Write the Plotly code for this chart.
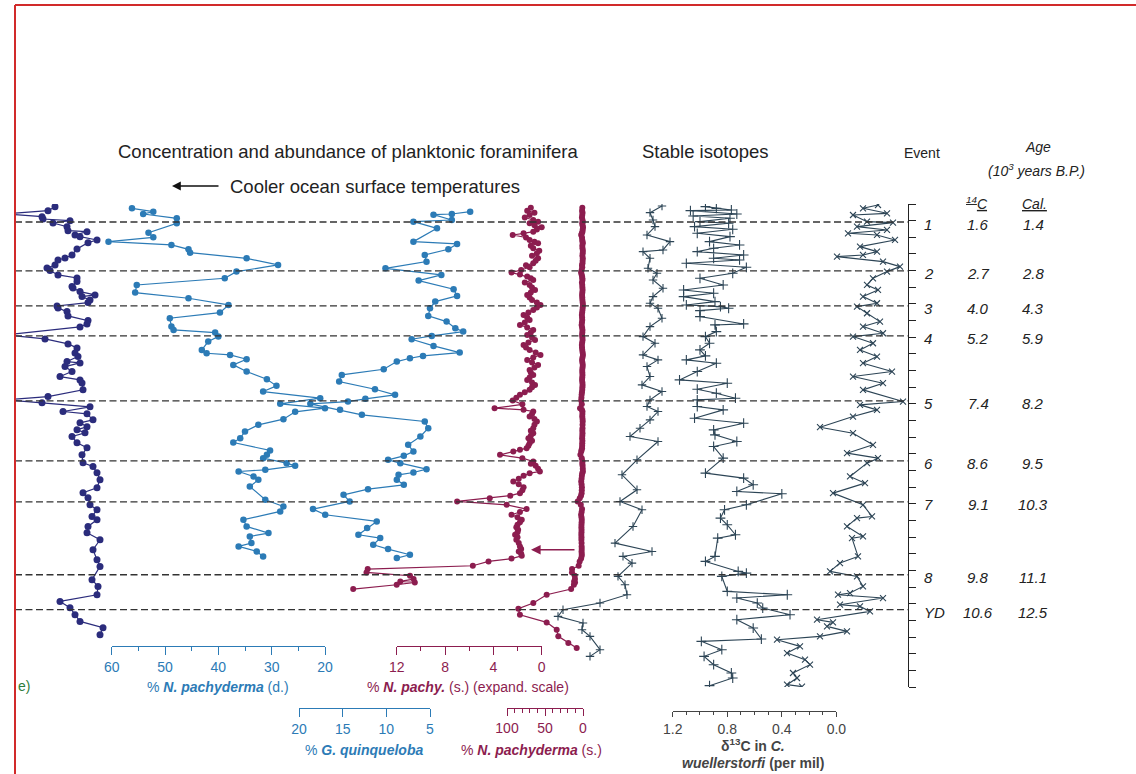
import plotly.graph_objects as go

# ---------------------------------------------------------------------------
# Core record: all series plotted against depth in the core (cm)
# ---------------------------------------------------------------------------

# Foraminifera concentration (left-most panel, scale runs off the page)
conc_depth = [1.6, 4.0, 6.0, 7.6, 9.0, 10.0, 11.4, 13.6, 16.0, 16.6, 18.6, 19.6, 21.6, 23.2,
              27.0, 30.6, 32.4, 33.6, 36.6, 38.4, 40.0, 42.6, 44.4, 46.6, 49.6, 50.4, 52.6,
              54.6, 55.6, 57.6, 59.2, 61.2, 62.4, 64.6, 67.2, 70.0, 72.0, 73.8, 78.6, 81.0,
              84.0, 86.4, 89.4, 91.6, 94.6, 95.4, 97.6, 100.6, 103.6, 105.6, 107.4, 111.6,
              115.6, 117.6, 119.4, 121.8, 124.6, 126.0, 129.6, 131.4, 133.8, 135.5, 137.4,
              139.6, 143.4, 146.4, 150.6, 155.4, 157.6, 161.4, 165.6, 170.4, 173.4, 176.4,
              180.6, 183.6, 187.6, 189.6, 193.6, 197.4, 201.6, 207.6, 213.6, 217.6, 225.6,
              229.6, 234.6, 238.6, 242.4, 246.6, 250.6, 254.4, 258.6]
conc_value = [40, 33, -10, 27, 28, 55, 38, 52, 53, 72, 60, 65, 82, 73, 62, 57, 50, 43, 40, 32,
              35, 43, 62, 62, 57, 58, 65, 80, 67, 75, 73, 42, 43, 52, 53, 73, 72, 65, -10, 30,
              53, 62, 60, 63, 52, 65, 50, 57, 45, 65, 67, 68, 33, -10, 27, 75, 48, 72, 78, 65,
              72, 62, 70, 57, 62, 72, 67, 68, 78, 82, 85, 82, 68, 73, 75, 82, 77, 82, 73, 72,
              85, 78, 82, 85, 77, 83, 82, 45, 55, 60, 65, 88, 85]

# % N. pachyderma (dextral): (depth, percent)
npd_samples = [(2.6, 56.2), (4.6, 52.2), (6.0, 54.1), (8.6, 47.8), (11.6, 47.8), (17.2, 53.1),
               (20.0, 52.2), (22.6, 60.6), (24.6, 48.8), (27.2, 45.6), (29.2, 45.3), (32.6, 34.7),
               (36.6, 28.8), (40.6, 36.6), (44.6, 38.8), (48.6, 55.3), (53.2, 55.6), (56.6, 45.6),
               (60.6, 38.1), (65.2, 39.7), (68.6, 49.1), (73.6, 48.8), (75.6, 48.4), (77.2, 40.6),
               (79.6, 40.0), (82.6, 41.9), (87.6, 43.1), (89.6, 42.2), (90.6, 37.8), (93.2, 34.7),
               (96.6, 37.2), (100.6, 34.7), (105.2, 30.9), (109.2, 29.1), (112.6, 31.6),
               (116.6, 20.9), (120.0, 28.4), (122.6, 20.0), (124.8, 25.6), (129.2, 27.8),
               (132.6, 32.5), (136.6, 35.0), (140.6, 35.9), (143.2, 37.2), (148.0, 30.3),
               (150.6, 30.9), (152.6, 31.6), (155.6, 27.2), (157.2, 25.6), (159.6, 31.2),
               (160.6, 36.2), (163.6, 33.4), (165.6, 32.5), (169.6, 34.1), (177.6, 31.2),
               (181.6, 27.8), (184.6, 28.4), (189.6, 35.3), (193.6, 34.7), (197.6, 30.6),
               (199.6, 34.1), (203.6, 33.8), (205.6, 36.2), (208.6, 32.8), (211.6, 31.6)]

# % G. quinqueloba: (depth, percent)
gq_samples = [(4.6, 0.4), (6.0, 2.5), (6.4, 4.6), (9.6, 2.5), (10.6, 6.9), (14.6, 4.2),
              (22.6, 6.9), (24.0, 1.9), (27.2, 2.9), (30.6, 5.6), (34.6, 5.4), (38.6, 10.1),
              (42.6, 3.7), (46.0, 6.3), (51.2, 2.3), (55.2, 1.9), (58.6, 4.4), (62.6, 5.0),
              (67.2, 5.2), (70.6, 3.1), (74.6, 2.1), (76.6, 1.2), (79.2, 4.8), (81.2, 7.1),
              (85.2, 4.6), (89.2, 1.6), (91.2, 5.8), (92.6, 7.3), (94.6, 8.8), (99.2, 10.3),
              (102.6, 15.1), (106.6, 15.4), (111.2, 11.3), (114.6, 9.0), (117.0, 12.4),
              (118.6, 14.4), (120.0, 18.7), (123.6, 15.3), (126.6, 12.8), (130.6, 5.6),
              (134.6, 5.2), (139.6, 6.1), (144.6, 7.5), (148.6, 6.9), (151.2, 8.0), (153.6, 9.8),
              (155.6, 8.4), (159.2, 5.4), (161.2, 6.9), (162.6, 8.6), (165.6, 8.8), (168.6, 8.0),
              (171.2, 12.1), (174.6, 14.9), (178.6, 14.2), (183.2, 18.4), (186.6, 17.0),
              (190.6, 11.1), (194.6, 12.2), (198.6, 13.2), (200.6, 10.7), (204.6, 11.5),
              (207.2, 9.8), (210.6, 7.3), (212.6, 8.8)]

# % N. pachyderma (sinistral): (depth, percent)
nps_samples = [(2.2, 0.9), (4.0, 1.2), (5.3, 0.6), (6.6, 1.0), (8.1, 1.4), (9.6, 0.7),
               (10.6, 0.3), (11.6, 1.0), (12.8, 0.6), (14.0, 0.0), (15.3, 0.4), (16.6, 0.7),
               (17.6, 1.5), (18.6, 2.4), (20.1, 1.3), (21.6, 1.0), (22.6, 0.6), (23.6, 0.3),
               (25.1, 0.9), (26.6, 0.7), (28.1, 0.2), (29.6, 0.4), (31.1, 0.8), (32.6, 0.3),
               (34.1, 0.5), (35.6, 0.7), (36.8, 1.3), (38.0, 1.0), (39.6, 1.7), (41.2, 2.5),
               (42.4, 1.8), (43.6, 1.2), (44.6, 0.9), (45.6, 0.7), (47.1, 1.4), (48.6, 1.0),
               (50.1, 0.8), (51.6, 0.55), (53.1, 0.9), (54.6, 1.2), (56.1, 1.0), (57.6, 0.8),
               (59.1, 0.4), (60.6, 0.1), (62.1, 0.4), (63.6, 0.7), (65.1, 1.1), (66.6, 1.5),
               (68.1, 1.2), (69.6, 1.0), (71.1, 1.4), (72.6, 1.8), (74.1, 1.2), (75.6, 0.7),
               (77.1, 0.9), (78.6, 1.2), (80.1, 0.8), (81.6, 0.55), (83.1, 1.1), (84.6, 1.5),
               (86.1, 1.3), (87.6, 1.0), (89.1, 0.5), (90.6, 0.1), (92.1, 0.7), (93.6, 1.2),
               (95.1, 0.8), (96.6, 0.3), (98.1, 0.6), (99.6, 1.0), (101.1, 0.9), (102.6, 0.7),
               (104.1, 1.0), (105.6, 1.2), (107.1, 0.8), (108.6, 0.55), (110.1, 0.8),
               (111.6, 1.0), (113.1, 1.4), (114.6, 1.8), (116.3, 2.1), (118.0, 2.4),
               (120.3, 1.6), (122.6, 3.9), (123.6, 1.5), (124.6, 0.7), (126.1, 0.8),
               (127.6, 1.0), (129.1, 0.6), (130.6, 0.4), (132.6, 0.6), (134.6, 0.7),
               (136.1, 0.9), (137.6, 0.7), (139.1, 0.9), (140.6, 1.1), (142.1, 0.8),
               (143.6, 1.0), (145.1, 1.1), (146.6, 1.25), (147.6, 1.8), (148.6, 2.35),
               (150.6, 3.45), (152.6, 1.6), (154.6, 0.7), (156.0, 0.9), (157.2, 0.5),
               (158.9, 0.3), (160.6, 0.15), (161.6, 1.0), (163.2, 1.5), (164.9, 1.9),
               (166.6, 2.35), (168.3, 1.9), (170.0, 1.5), (171.8, 1.6), (173.6, 1.8),
               (175.1, 2.6), (176.6, 4.3), (178.6, 7.0), (180.6, 2.9), (183.2, 1.25),
               (184.9, 1.8), (186.6, 2.5), (188.1, 2.0), (189.6, 1.65), (191.1, 1.8),
               (192.6, 2.0), (194.1, 2.1), (195.6, 1.95), (197.1, 2.0), (198.6, 2.2),
               (200.1, 2.0), (201.6, 2.1), (203.6, 1.9), (205.6, 1.8), (207.1, 1.7),
               (208.6, 1.9), (210.0, 1.7), (211.2, 1.65), (212.9, 2.5), (214.6, 4.4),
               (217.2, 5.7), (219.2, 14.4), (221.2, 14.5), (223.2, 10.9), (225.2, 10.6),
               (226.6, 11.7), (227.2, 10.5), (228.6, 12.0), (231.2, 15.6), (234.6, 47.8),
               (239.6, 65.4), (243.0, 85.0), (246.6, 83.0), (251.2, 47.8), (255.6, 34.6),
               (259.6, 32.5), (263.6, 19.3), (266.6, 8.3)]

# Planktonic delta-18O (per mil)
d18o_plank = [(1.2, 2.78), (5.2, 2.90), (9.6, 2.87), (13.6, 2.85), (18.6, 2.93), (22.6, 2.70),
              (27.6, 2.77), (28.6, 2.97), (32.6, 2.90), (38.6, 2.92), (41.6, 2.83), (45.6, 2.87),
              (50.6, 2.77), (55.6, 2.87), (59.6, 2.90), (62.6, 2.82), (68.6, 2.78), (73.6, 2.90),
              (79.6, 2.97), (83.6, 2.85), (90.6, 2.97), (93.6, 2.82), (97.6, 2.93), (103.6, 2.90),
              (108.6, 2.98), (112.6, 2.78), (117.6, 2.90), (121.6, 2.93), (124.6, 2.82),
              (129.6, 2.90), (134.6, 3.00), (139.6, 3.10), (142.6, 2.82), (153.6, 3.03),
              (162.6, 3.18), (171.6, 3.03), (178.6, 3.20), (183.6, 2.98), (193.6, 3.07),
              (203.6, 3.25), (208.6, 2.88), (211.6, 3.17), (215.6, 3.08), (223.6, 3.22),
              (228.6, 3.15), (234.6, 3.13), (239.6, 3.40), (243.6, 3.77), (247.6, 3.82),
              (251.6, 3.57), (255.6, 3.58), (259.6, 3.50), (267.6, 3.40), (271.6, 3.50)]

# delta-13C in C. wuellerstorfi (per mil)
d13c_cw = [(1.6, 0.96), (2.6, 0.88), (3.6, 0.77), (4.0, 1.07), (6.0, 0.73), (7.2, 1.05),
           (8.6, 0.78), (10.6, 1.00), (11.6, 0.79), (13.6, 1.04), (15.2, 0.76), (17.6, 1.02),
           (19.6, 0.78), (22.6, 0.93), (24.6, 0.71), (26.6, 0.90), (28.6, 1.02), (30.6, 0.68),
           (32.6, 0.90), (33.6, 0.71), (35.6, 1.10), (38.0, 0.66), (41.6, 0.76), (44.6, 1.00),
           (48.6, 0.83), (51.6, 1.12), (53.6, 0.90), (55.6, 1.12), (58.6, 0.89), (60.6, 1.10),
           (61.6, 0.85), (62.6, 0.79), (64.0, 1.00), (67.6, 1.00), (72.0, 0.68), (72.6, 0.89),
           (76.6, 0.88), (79.6, 0.96), (83.6, 0.93), (87.6, 1.00), (91.2, 0.96), (93.6, 1.10),
           (95.6, 0.88), (100.6, 1.02), (105.6, 1.15), (107.6, 0.80), (111.2, 1.02),
           (113.6, 0.88), (116.6, 0.74), (117.6, 1.02), (121.6, 1.02), (123.6, 0.83),
           (128.6, 1.04), (131.6, 0.68), (135.6, 0.90), (138.6, 0.89), (142.6, 0.73),
           (145.6, 0.90), (152.6, 0.83), (161.6, 0.96), (164.6, 0.68), (168.6, 0.61),
           (172.6, 0.73), (174.0, 0.40), (180.6, 0.66), (183.6, 0.82), (188.6, 0.85),
           (192.6, 0.80), (198.6, 0.74), (200.6, 0.87), (211.6, 0.89), (214.6, 0.96),
           (220.6, 0.72), (221.6, 0.66), (223.6, 0.84), (232.6, 0.80), (234.6, 0.36),
           (236.6, 0.73), (239.6, 0.58), (242.6, 0.54), (246.6, 0.34), (249.6, 0.73),
           (254.6, 0.61), (261.2, 0.55), (262.6, 0.99), (267.6, 0.84), (271.6, 0.97),
           (276.6, 0.90), (281.6, 0.77), (284.6, 0.76), (289.2, 0.93)]

# Benthic delta-18O (per mil)
d18o_benth = [(0.6, 3.42), (2.6, 3.57), (5.6, 3.33), (6.6, 3.67), (10.6, 3.53), (11.2, 3.27),
              (13.6, 3.63), (15.6, 3.33), (17.6, 3.72), (18.6, 3.43), (21.6, 3.25), (25.6, 3.60),
              (28.6, 3.43), (30.6, 3.57), (31.6, 3.83), (34.6, 3.37), (37.6, 3.20), (40.6, 3.33),
              (44.6, 3.47), (48.6, 3.53), (51.6, 3.42), (55.6, 3.57), (59.6, 3.43), (61.6, 3.63),
              (65.6, 3.53), (70.6, 3.40), (73.6, 3.57), (77.6, 3.37), (79.6, 3.67), (83.6, 3.47),
              (87.6, 3.60), (91.6, 3.43), (95.6, 3.57), (100.6, 3.28), (103.6, 3.67),
              (107.6, 3.37), (111.6, 3.57), (118.6, 3.17), (120.6, 3.60), (123.6, 3.43),
              (127.6, 3.67), (134.0, 4.00), (137.6, 3.67), (144.6, 3.47), (149.6, 3.73),
              (152.6, 3.42), (155.6, 3.53), (163.6, 3.70), (167.6, 3.55), (173.6, 3.87),
              (180.6, 3.57), (187.6, 3.48), (188.6, 3.63), (193.6, 3.73), (199.6, 3.57),
              (200.6, 3.68), (211.6, 3.62), (215.6, 3.80), (220.6, 3.90), (223.6, 3.63),
              (229.6, 3.57), (233.6, 3.70), (234.6, 3.82), (236.6, 3.37), (240.6, 3.80),
              (241.6, 3.60), (244.6, 3.50), (249.6, 4.03), (251.2, 3.87), (253.6, 3.93),
              (256.6, 3.73), (259.6, 4.00), (261.6, 4.43), (265.6, 4.20), (269.6, 4.33),
              (273.6, 4.15), (276.6, 4.10), (281.6, 4.27), (284.6, 4.23), (288.6, 4.33),
              (289.8, 4.18)]

# Cooling events and their ages
event_names = ["1", "2", "3", "4", "5", "6", "7", "8", "YD"]
event_depth = [10.8, 40.2, 61.2, 79.2, 118.2, 154.2, 178.8, 222.6, 243.6]
age_14c = ["1.6", "2.7", "4.0", "5.2", "7.4", "8.6", "9.1", "9.8", "10.6"]
age_cal = ["1.4", "2.8", "4.3", "5.9", "8.2", "9.5", "10.3", "11.1", "12.5"]

# Depth of the ice-rafting arrow on the N. pachyderma (s.) column
arrow_depth = 207.6

# ---------------------------------------------------------------------------
# Styling / page geometry
# ---------------------------------------------------------------------------
W, H = 1136, 774
FONT = "Liberation Sans, Arial, sans-serif"
NAVY = "#2b2c7c"
BLUE = "#2c7bb6"
MAROON = "#8c1d4f"
SLATE = "#2d4556"
GREY = "#444444"
RED = "#d12a2a"

DEPTH_RANGE = [290, 0]
TOP_PX, BOTTOM_PX = 204, 687


def fx(p):
    return p / W


def fy(p):
    return 1 - p / H


def unzip(samples):
    return [s[0] for s in samples], [s[1] for s in samples]


def extend_range(px0, v0, px1, v1, dom_px):
    """Value range for a wider domain that keeps the same linear scale."""
    k = (v1 - v0) / (px1 - px0)
    return [v0 + k * (dom_px[0] - px0), v0 + k * (dom_px[1] - px0)]


fig = go.Figure()
layout_axes = {}


def data_axis(name, dom_px, rng):
    layout_axes[name] = dict(domain=[fx(dom_px[0]), fx(dom_px[1])], range=rng,
                             visible=False, anchor="y", showgrid=False, zeroline=False,
                             automargin=False)


def scale_axis(name, dom_px, rng, pos_px, color, dtick, minor=None, tickformat=None,
               tick0=None, ticklen=8, minorlen=4):
    ax = dict(domain=[fx(dom_px[0]), fx(dom_px[1])], range=rng, anchor="free",
              position=fy(pos_px), side="bottom", showline=True, linecolor=color, linewidth=1.3,
              ticks="outside", ticklen=ticklen, tickwidth=1.2, tickcolor=color, dtick=dtick,
              showgrid=False, zeroline=False, ticklabelstandoff=0, automargin=False,
              tickfont=dict(family=FONT, size=14, color=color))
    if tick0 is not None:
        ax["tick0"] = tick0
    if minor:
        ax["minor"] = dict(ticks="outside", ticklen=minorlen, tickwidth=1.1, tickcolor=color,
                           dtick=minor, showgrid=False)
    if tickformat:
        ax["tickformat"] = tickformat
    layout_axes[name] = ax
    # invisible anchor point so the scale is laid out
    fig.add_trace(go.Scatter(x=[rng[0]], y=[-50], xaxis=name.replace("axis", ""), yaxis="y",
                             mode="markers", marker=dict(opacity=0), hoverinfo="skip",
                             showlegend=False))


def dotted_line(xa, xs, ys, color, size=6.5, width=1.2):
    fig.add_trace(go.Scatter(x=xs, y=ys, xaxis=xa, yaxis="y", mode="lines+markers",
                             line=dict(color=color, width=width),
                             marker=dict(color=color, size=size, line=dict(width=0)),
                             hoverinfo="skip", showlegend=False))


def iso_line(xa, xs, ys, symbol, size):
    fig.add_trace(go.Scatter(x=xs, y=ys, xaxis=xa, yaxis="y", mode="lines+markers",
                             line=dict(color=SLATE, width=1.1),
                             marker=dict(symbol=symbol, size=size,
                                         line=dict(color=SLATE, width=1.1)),
                             hoverinfo="skip", showlegend=False))


# --- concentration (axis off the page to the left)
data_axis("xaxis", [15, 115], [0, 100])
dotted_line("x", conc_value, conc_depth, NAVY, size=7)

# --- % N. pachyderma (d.)   60 -> 20
B_MAP = (111.7, 60, 325, 20)
data_axis("xaxis2", [100, 345], extend_range(*B_MAP, [100, 345]))
d, v = unzip(npd_samples)
dotted_line("x2", v, d, BLUE)
scale_axis("xaxis9", [B_MAP[0], B_MAP[2]], [60, 20], 646, BLUE, 10, minor=5)

# --- % G. quinqueloba   20 -> 5
C_MAP = (299, 20, 430, 5)
data_axis("xaxis3", [285, 485], extend_range(*C_MAP, [285, 485]))
d, v = unzip(gq_samples)
dotted_line("x3", v, d, BLUE)
scale_axis("xaxis10", [C_MAP[0], C_MAP[2]], [20, 5], 708, BLUE, 5, tick0=0)

# --- % N. pachyderma (s.) expanded scale   12 -> 0 (drawn while values stay near the scale)
D_MAP = (396.7, 12, 541.7, 0)
data_axis("xaxis4", [340, 552], extend_range(*D_MAP, [340, 552]))
d, v = unzip(nps_samples)
cut = next(i for i, val in enumerate(v) if val > 20)
dotted_line("x4", v[:cut], d[:cut], MAROON, size=6)
scale_axis("xaxis11", [D_MAP[0], D_MAP[2]], [12, 0], 646, MAROON, 4, minor=2)

# --- % N. pachyderma (s.) full scale   100 -> 0
E_MAP = (507, 100, 583, 0)
data_axis("xaxis5", [500, 592], extend_range(*E_MAP, [500, 592]))
dotted_line("x5", v, d, MAROON, size=6)
scale_axis("xaxis12", [E_MAP[0], E_MAP[2]], [100, 0], 708, MAROON, 50, minor=10,
           ticklen=7, minorlen=4)

# --- planktonic delta-18O (scale not shown)
data_axis("xaxis6", [540, 690], [4.0, 2.5])
d, v = unzip(d18o_plank)
iso_line("x6", v, d, "cross-thin-open", 6)

# --- delta-13C C. wuellerstorfi   1.2 -> 0.0
G_MAP = (672.7, 1.2, 836.4, 0.0)
data_axis("xaxis7", [655, 805], extend_range(*G_MAP, [655, 805]))
d, v = unzip(d13c_cw)
iso_line("x7", v, d, "cross-thin-open", 7)
scale_axis("xaxis13", [G_MAP[0], G_MAP[2]], [1.2, 0.0], 711, GREY, 0.4, minor=0.1,
           tickformat=".1f", ticklen=5, minorlen=3)

# --- benthic delta-18O (scale not shown)
data_axis("xaxis8", [760, 915], [4.6, 3.05])
d, v = unzip(d18o_benth)
iso_line("x8", v, d, "x-thin-open", 6)

# --- depth axis (ticks every 10 cm, no labels)
layout_axes["yaxis"] = dict(domain=[fy(BOTTOM_PX), fy(TOP_PX)], range=DEPTH_RANGE,
                            anchor="free", position=fx(908), side="right", showline=True,
                            linecolor="#222", linewidth=1.3, ticks="outside", ticklen=7,
                            tickwidth=1.2, tickcolor="#222", dtick=10, tick0=0,
                            showticklabels=False, showgrid=False, zeroline=False,
                            automargin=False)

# ---------------------------------------------------------------------------
# Event lines and labels
# ---------------------------------------------------------------------------
shapes = []
annotations = []
for name, dep, c14, cal in zip(event_names, event_depth, age_14c, age_cal):
    shapes.append(dict(type="line", xref="paper", yref="y", x0=fx(15), x1=fx(908),
                       y0=dep, y1=dep, line=dict(color="#333333", width=1.3, dash="7px,3.5px")))
    for txt, xp, anc in ((name, 922, "left"), (c14, 978, "center"), (cal, 1033, "center")):
        annotations.append(dict(text=f"<i>{txt}</i>", xref="paper", yref="y", x=fx(xp), y=dep,
                                xanchor=anc, yanchor="middle", yshift=-3, showarrow=False,
                                font=dict(family=FONT, size=15, color="#222")))

# red page frame
shapes.append(dict(type="line", xref="paper", yref="paper", x0=fx(15), x1=1, y0=fy(5), y1=fy(5),
                   line=dict(color=RED, width=2)))
shapes.append(dict(type="line", xref="paper", yref="paper", x0=fx(15), x1=fx(15), y0=0,
                   y1=fy(5), line=dict(color=RED, width=2)))


def note(text, xp, yp, size=14, color="#222", xanchor="center"):
    annotations.append(dict(text=text, xref="paper", yref="paper", x=fx(xp), y=fy(yp),
                            xanchor=xanchor, yanchor="middle", showarrow=False,
                            font=dict(family=FONT, size=size, color=color)))


# headings
note("Concentration and abundance of planktonic foraminifera", 348, 152, size=18.5)
note("Stable isotopes", 705, 152, size=18.5)
note("Cooler ocean surface temperatures", 228, 186, size=18.5, xanchor="left")
annotations.append(dict(text=" ", xref="paper", yref="paper", x=fx(172), y=fy(186), ax=50, ay=0,
                        showarrow=True, arrowhead=2, arrowsize=1.1, arrowwidth=1.6,
                        arrowcolor="#111"))
note("Event", 922, 153, size=14)
note("<i>Age</i>", 1038, 147, size=14)
note("<i>(10<sup>3</sup> years B.P.)</i>", 1036, 170, size=14)
note("<i><u><sup>14</sup>C</u></i>", 977, 203, size=14)
note("<i><u>Cal.</u></i>", 1034, 204, size=14)

# scale titles
note("% <b><i>N. pachyderma</i></b> (d.)", 218, 687, color=BLUE)
note("% <b><i>N. pachy.</i></b> (s.) (expand. scale)", 468, 687, color=MAROON)
note("% <b><i>G. quinqueloba</i></b>", 364, 750, color=BLUE)
note("% <b><i>N. pachyderma</i></b> (s.)", 531, 750, color=MAROON)
note("<b>δ<sup>13</sup>C in <i>C.</i></b>", 753, 745, color=GREY)
note("<b><i>wuellerstorfi</i> (per mil)</b>", 753, 763, color=GREY)
note("e)", 16, 686, color="#2e7d3a", xanchor="left")

# ice-rafting arrow on the N. pachyderma (s.) column
annotations.append(dict(text=" ", xref="paper", yref="y", x=fx(531), y=arrow_depth, ax=47, ay=0,
                        showarrow=True, arrowhead=2, arrowsize=1.2, arrowwidth=1.6,
                        arrowcolor=MAROON))

fig.update_layout(width=W, height=H,
                  margin=dict(l=0, r=0, t=0, b=0, pad=0, autoexpand=False), autosize=False,
                  paper_bgcolor="white", plot_bgcolor="rgba(0,0,0,0)", showlegend=False,
                  font=dict(family=FONT, size=14, color="#222"), shapes=shapes,
                  annotations=annotations, **layout_axes)

fig.write_html("out.html")
